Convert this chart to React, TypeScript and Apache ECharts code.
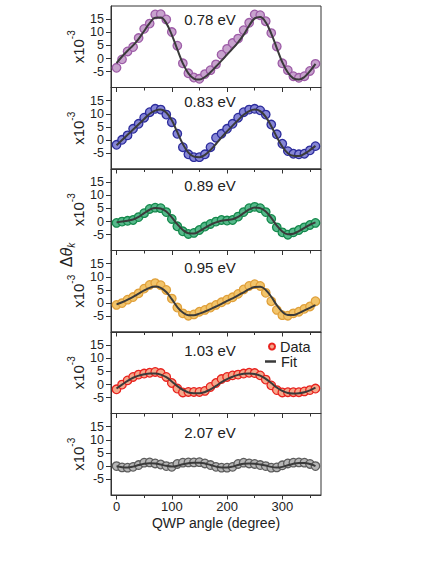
import React, { useEffect, useRef } from "react";
import * as echarts from "echarts";

const angles = [0, 10, 20, 30, 40, 50, 60, 70, 80, 90, 100, 110, 120, 130, 140, 150, 160, 170, 180, 190, 200, 210, 220, 230, 240, 250, 260, 270, 280, 290, 300, 310, 320, 330, 340, 350, 360];

const energyLabels = ["0.78 eV", "0.83 eV", "0.89 eV", "0.95 eV", "1.03 eV", "2.07 eV"];

const data078 = [-3.5, -0.3, 2.7, 4.4, 7.8, 11.3, 13.3, 16.8, 16.9, 14.9, 10.1, 4.9, -1.8, -5.6, -7.2, -7.7, -5.9, -4.4, -2.2, 1.5, 3.7, 5.9, 7.6, 10.8, 13.6, 16.8, 16.5, 14.2, 9.7, 4.6, -1.8, -4.4, -6.7, -7.3, -6.7, -4.7, -2.0];
const fit078 = [-1.7, 0.8, 3.0, 5.0, 7.5, 10.5, 13.5, 15.5, 15.6, 13.5, 9.0, 3.5, -1.8, -5.6, -7.6, -8.0, -7.0, -5.2, -3.0, -0.8, 1.5, 3.8, 6.2, 9.0, 12.5, 15.3, 15.8, 13.8, 9.5, 4.0, -1.4, -5.3, -7.5, -8.0, -7.0, -4.8, -2.0];

const data083 = [-1.8, 0.1, 1.8, 4.3, 6.2, 8.5, 10.6, 11.9, 11.6, 9.7, 6.8, 2.4, -2.7, -5.4, -6.5, -6.5, -5.4, -2.7, 0.9, 2.4, 4.3, 6.2, 8.5, 10.6, 11.6, 11.9, 11.3, 9.7, 5.9, 2.2, -1.4, -4.2, -5.2, -5.4, -5.2, -3.9, -2.3];
const fit083 = [-2.0, 0.0, 2.0, 4.0, 6.0, 8.0, 10.0, 11.2, 11.6, 10.5, 7.5, 3.0, -1.5, -4.8, -6.3, -6.5, -5.6, -3.8, -1.5, 1.0, 3.3, 5.5, 7.6, 9.6, 11.0, 11.6, 11.0, 8.8, 5.3, 1.2, -2.5, -5.0, -6.0, -6.1, -5.2, -3.8, -2.2];

const data089 = [-0.5, 0.0, 0.3, 0.6, 1.7, 3.2, 4.8, 5.3, 5.1, 3.6, 1.0, -1.8, -3.7, -4.7, -4.3, -3.2, -1.9, -0.9, 0.0, 0.6, 0.4, 0.6, 1.9, 3.6, 5.1, 5.6, 5.1, 3.6, 1.0, -2.2, -4.1, -5.0, -4.1, -3.2, -2.2, -1.3, -0.5];
const fit089 = [-0.3, 0.0, 0.3, 0.8, 1.8, 3.2, 4.5, 5.2, 5.0, 3.8, 1.6, -1.0, -3.2, -4.4, -4.5, -3.6, -2.4, -1.2, -0.3, 0.3, 0.6, 0.9, 1.8, 3.2, 4.6, 5.4, 5.1, 3.8, 1.4, -1.5, -3.8, -4.8, -4.6, -3.6, -2.4, -1.2, -0.3];

const data095 = [-0.7, 0.0, 1.3, 2.3, 3.7, 5.5, 6.9, 7.6, 6.8, 5.0, 1.7, -1.7, -3.9, -4.8, -4.3, -3.3, -2.6, -1.7, -0.7, 0.3, 1.3, 2.2, 3.5, 5.2, 6.5, 7.2, 6.5, 3.9, 0.7, -2.6, -4.6, -4.8, -3.9, -3.3, -2.2, -1.3, 0.7];
const fit095 = [-0.5, 0.3, 1.3, 2.4, 3.6, 4.8, 5.8, 6.3, 5.8, 4.2, 1.5, -1.5, -3.6, -4.6, -4.6, -4.0, -3.2, -2.3, -1.3, -0.3, 0.8, 1.8, 2.9, 4.1, 5.3, 6.1, 6.2, 5.0, 2.4, -0.8, -3.3, -4.5, -4.5, -3.8, -2.8, -1.8, -0.8];

const data103 = [-1.8, 0.0, 1.6, 2.9, 3.8, 4.2, 4.5, 4.8, 4.4, 2.9, 0.6, -1.5, -3.0, -2.8, -2.8, -2.8, -2.4, -0.9, 0.6, 2.1, 2.9, 3.5, 3.8, 4.2, 4.5, 4.4, 3.5, 1.9, -0.3, -2.1, -3.0, -2.9, -2.9, -2.9, -2.6, -2.1, -1.5];
const fit103 = [-1.5, 0.0, 1.4, 2.6, 3.4, 3.9, 4.2, 4.2, 3.8, 2.8, 1.2, -0.6, -2.0, -3.0, -3.3, -3.3, -2.8, -1.8, -0.5, 0.9, 2.1, 3.0, 3.7, 4.1, 4.2, 4.0, 3.4, 2.2, 0.6, -1.1, -2.4, -3.2, -3.4, -3.3, -2.9, -2.2, -1.2];

const data207 = [0.0, -0.5, -0.6, -0.3, 0.4, 1.3, 1.4, 1.0, 0.6, 0.0, -0.3, 0.8, 1.3, 1.4, 1.4, 1.5, 1.0, 0.4, -0.3, -0.6, -0.6, -0.3, 0.8, 1.3, 1.0, 0.8, 0.4, 0.0, -0.6, -0.5, 0.3, 1.0, 1.3, 1.4, 1.3, 0.8, 0.0];
const fit207 = [-0.1, -0.4, -0.5, -0.2, 0.4, 0.9, 1.1, 1.0, 0.6, 0.1, -0.2, 0.1, 0.7, 1.1, 1.3, 1.3, 1.0, 0.4, -0.2, -0.5, -0.5, -0.2, 0.4, 0.9, 1.0, 0.9, 0.6, 0.2, -0.3, -0.5, -0.3, 0.3, 0.9, 1.2, 1.2, 0.8, 0.0];

const yTicks = [-5, 0, 5, 10, 15];
const xMajorTicks = [0, 100, 200, 300];
const xMinorTicks = [50, 150, 250, 350];

const panelData = [data078, data083, data089, data095, data103, data207];
const panelFit = [fit078, fit083, fit089, fit095, fit103, fit207];
const fillColors = ["#c7a2cd", "#8686d6", "#56b98b", "#f2c46a", "#f6a78a", "#b6b6b6"];
const edgeColors = ["#9d5ca7", "#2c2c9c", "#14894c", "#e0a03a", "#e8231f", "#5c5c5c"];
const labelDy = [13, 13.6, 16.8, 17.3, 18.8, 18.8];

const FONT = "Liberation Sans, Arial, Helvetica, sans-serif";
const AX = "#333";
const GRID_LEFT = 111;
const GRID_W = 210;
const GRID_TOP = 6;
const GRID_H = 81.5;

export default function App() {
  const ref = useRef<HTMLDivElement>(null);
  useEffect(() => {
    if (!ref.current) return;
    const chart = echarts.init(ref.current, undefined, { renderer: "svg" });
    const grids: any[] = [];
    const xAxes: any[] = [];
    const yAxes: any[] = [];
    const series: any[] = [];
    const graphics: any[] = [];
    for (let i = 0; i < 6; i++) {
      const top = GRID_TOP + GRID_H * i;
      grids.push({
        left: GRID_LEFT,
        top,
        width: GRID_W,
        height: GRID_H,
        show: true,
        borderColor: AX,
        borderWidth: 1,
        backgroundColor: "transparent",
      });
      const last = i === 5;
      xAxes.push({
        type: "value",
        gridIndex: i,
        min: -10,
        max: 370,
        position: "bottom",
        axisLine: { onZero: false, lineStyle: { color: AX, width: 1 } },
        axisTick: { show: true, customValues: xMajorTicks, length: 4.5, lineStyle: { color: AX } },
        axisLabel: {
          show: last,
          customValues: xMajorTicks,
          fontSize: 13,
          fontFamily: FONT,
          color: "#222",
          margin: 5,
        },
        splitLine: { show: false },
        name: last ? "QWP angle (degree)" : "",
        nameLocation: "middle",
        nameGap: 21,
        nameTextStyle: { fontSize: 14, fontFamily: FONT, color: "#222" },
      });
      xAxes.push({
        type: "value",
        gridIndex: i,
        min: -10,
        max: 370,
        position: "bottom",
        axisLine: { show: false, onZero: false },
        axisTick: { show: true, customValues: xMinorTicks, length: 3, lineStyle: { color: AX } },
        axisLabel: { show: false },
        splitLine: { show: false },
      });
      yAxes.push({
        type: "value",
        gridIndex: i,
        min: -11,
        max: 20,
        position: "left",
        axisLine: { show: true, onZero: false, lineStyle: { color: AX, width: 1 } },
        axisTick: { show: true, customValues: yTicks, length: 5, lineStyle: { color: AX } },
        axisLabel: {
          customValues: yTicks,
          fontSize: 12.5,
          fontFamily: FONT,
          color: "#222",
          margin: 7,
        },
        splitLine: { show: false },
        name: "{a|x10}{b|-3}",
        nameLocation: "middle",
        nameRotate: 90,
        nameGap: 18,
        nameTextStyle: {
          rich: {
            a: { fontSize: 15, fontFamily: FONT, color: "#222", lineHeight: 20, verticalAlign: "bottom" },
            b: { fontSize: 10, fontFamily: FONT, color: "#222", lineHeight: 20, verticalAlign: "top" },
          },
        },
      });
      const pts = angles.map((a, k) => [a, panelData[i][k]]);
      const fitPts = angles.map((a, k) => [a, panelFit[i][k]]);
      series.push({
        type: "scatter",
        name: i === 4 ? "Data" : "data" + i,
        xAxisIndex: i * 2,
        yAxisIndex: i,
        data: pts,
        symbol: "circle",
        symbolSize: 8.5,
        itemStyle: { color: fillColors[i], borderColor: edgeColors[i], borderWidth: 1.3, opacity: 1 },
        z: 2,
      });
      series.push({
        type: "line",
        name: i === 4 ? "Fit" : "fit" + i,
        xAxisIndex: i * 2,
        yAxisIndex: i,
        data: fitPts,
        smooth: 0.4,
        showSymbol: false,
        symbol: "none",
        lineStyle: { color: "#3a3a3a", width: 2 },
        itemStyle: { color: "#3a3a3a" },
        z: 3,
      });
      graphics.push({
        type: "text",
        x: 210,
        y: top + labelDy[i],
        style: {
          text: energyLabels[i],
          fontSize: 15,
          fontFamily: FONT,
          fill: "#222",
          align: "center",
          verticalAlign: "middle",
        },
      });
    }
    graphics.push({
      type: "text",
      x: 66,
      y: 255,
      rotation: Math.PI / 2,
      style: {
        text: "{a|Δ}{b|θ}{s|k}",
        align: "center",
        verticalAlign: "middle",
        rich: {
          a: { fontSize: 16, fontFamily: FONT, fill: "#222", lineHeight: 20, verticalAlign: "middle" },
          b: { fontSize: 16, fontFamily: FONT, fontStyle: "italic", fill: "#222", lineHeight: 20, verticalAlign: "middle" },
          s: { fontSize: 10, fontFamily: FONT, fontStyle: "italic", fill: "#222", lineHeight: 20, verticalAlign: "bottom" },
        },
      },
    });
    chart.setOption({
      animation: false,
      backgroundColor: "#fff",
      grid: grids,
      xAxis: xAxes,
      yAxis: yAxes,
      series,
      graphic: graphics,
      legend: [
        {
          data: ["Data"],
          left: 268,
          top: 339,
          orient: "vertical",
          padding: 0,
          itemWidth: 6,
          itemHeight: 6,
          selectedMode: false,
          textStyle: { fontSize: 14.5, lineHeight: 14, fontFamily: FONT, color: "#222", padding: [0, 0, 0, 0] },
        },
        {
          data: [{ name: "Fit", icon: "rect" }],
          left: 265,
          top: 354,
          orient: "vertical",
          padding: 0,
          itemWidth: 11,
          itemHeight: 2.5,
          selectedMode: false,
          textStyle: { fontSize: 14.5, lineHeight: 14, fontFamily: FONT, color: "#222" },
        },
      ],
    });
    return () => chart.dispose();
  }, []);
  return (
    <div
      ref={ref}
      style={{ position: "absolute", left: 0, top: 0, width: 436, height: 564 }}
    />
  );
}
